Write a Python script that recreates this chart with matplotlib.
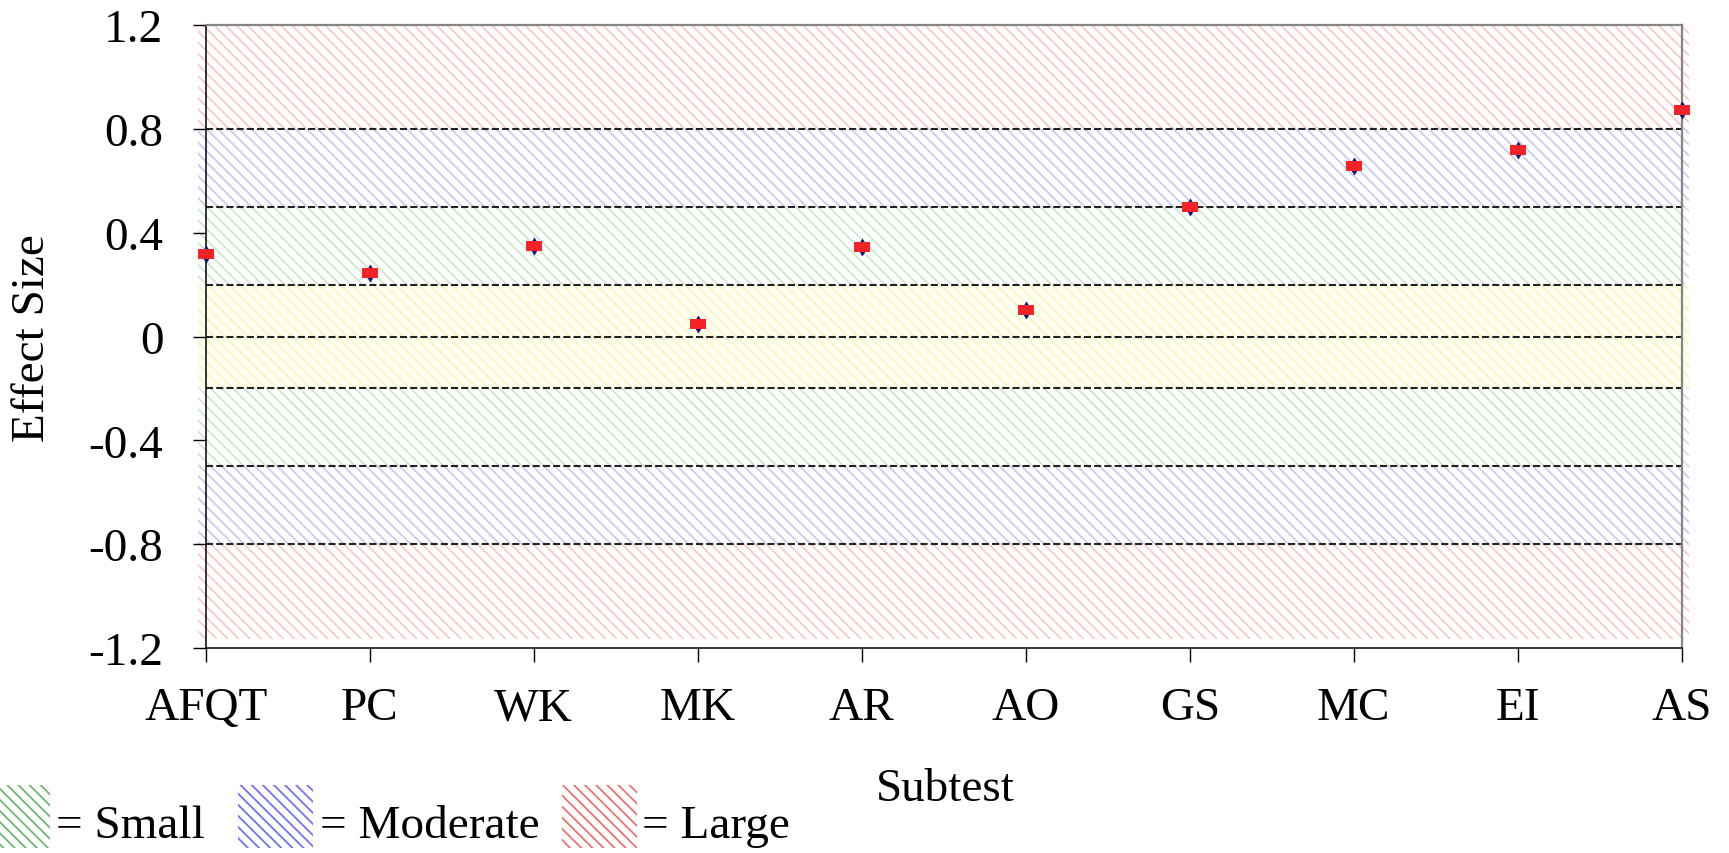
import matplotlib
matplotlib.use("Agg")
import matplotlib.pyplot as plt
from matplotlib.patches import Rectangle
from matplotlib.path import Path

# Effect sizes by ASVAB subtest
subtests = ["AFQT", "PC", "WK", "MK", "AR", "AO", "GS", "MC", "EI", "AS"]
effect_size = [0.318, 0.246, 0.347, 0.047, 0.345, 0.101, 0.497, 0.657, 0.717, 0.873]

y_ticks = [1.2, 0.8, 0.4, 0, -0.4, -0.8, -1.2]
y_tick_labels = ["1.2", "0.8", "0.4", "0", "-0.4", "-0.8", "-1.2"]
thresholds = [0.8, 0.5, 0.2, 0, -0.2, -0.5, -0.8]

# Shaded effect-size bands: (low, high, face, hatch colour)
bands = [
    (0.8, 1.2, "white", "#f9caca"),
    (0.5, 0.8, "white", "#cacaf4"),
    (0.2, 0.5, "white", "#cde8cd"),
    (-0.2, 0.2, "#fffff0", "#f6f6c8"),
    (-0.5, -0.2, "white", "#cde8cd"),
    (-0.8, -0.5, "white", "#cacaf4"),
    (-1.165, -0.8, "white", "#f9caca"),
]

legend_items = [("= Small", "#6cb86c"), ("= Moderate", "#7272ee"), ("= Large", "#ee7272")]

plt.rcParams["font.family"] = ["Liberation Serif", "DejaVu Serif"]
plt.rcParams["hatch.linewidth"] = 1.3

W, H = 1729, 854
fig = plt.figure(figsize=(W / 100, H / 100), dpi=100)
ax = fig.add_axes([205.7 / W, 1 - 649 / H, (1681.7 - 205.7) / W, (649 - 26) / H])

x = list(range(len(subtests)))
ax.set_xlim(0, len(subtests) - 1)
ax.set_ylim(-1.2, 1.2)

for lo, hi, face, hc in bands:
    ax.add_patch(Rectangle((-0.045, lo), len(subtests) - 1 + 0.09, hi - lo,
                           facecolor=face, edgecolor=hc, hatch="\\\\\\",
                           linewidth=0, zorder=0, clip_on=False))

for t in thresholds:
    ax.axhline(t, color="#222222", linewidth=1.5, linestyle=(0, (3.4, 1.5)), zorder=2)

diamond = Path([(0, -1), (0.62, 0), (0, 1), (-0.62, 0), (0, -1)])
rect = Path([(-1, -0.6), (1, -0.6), (1, 0.6), (-1, 0.6), (-1, -0.6)])
ax.plot(x, effect_size, linestyle="none", marker=diamond, markersize=13,
        color="#14147a", markeredgewidth=0, zorder=4, clip_on=False)
ax.plot(x, effect_size, linestyle="none", marker=rect, markersize=11.5,
        color="#f52228", markeredgewidth=0, zorder=5, clip_on=False)

ax.set_xticks(x)
ax.set_xticklabels(subtests, fontsize=34)
ax.set_yticks(y_ticks)
ax.set_yticklabels(y_tick_labels, fontsize=34)
ax.tick_params(axis="x", direction="out", length=10, width=1, pad=18, colors="black")
ax.tick_params(axis="y", direction="out", length=9.4, width=1, pad=21, colors="black")

for side in ("left", "bottom"):
    ax.spines[side].set_color("black")
    ax.spines[side].set_linewidth(1.1)
for side in ("top", "right"):
    ax.spines[side].set_color("#858585")
    ax.spines[side].set_linewidth(1.6)
ax.set_facecolor("none")

fig.text(33 / W, 1 - 338 / H, "Effect Size", rotation=90, ha="center", va="center", fontsize=34)
fig.text(945 / W, 1 - 801 / H, "Subtest", ha="center", va="baseline", fontsize=34)

# Legend swatches along the bottom edge
box_x = [-25, 238, 562]
text_x = [56, 320, 642]
for (label, col), bx, tx in zip(legend_items, box_x, text_x):
    fig.patches.append(Rectangle((bx / W, 1 - 849 / H), 75 / W, 63 / H,
                                 transform=fig.transFigure, facecolor="white",
                                 edgecolor=col, hatch="\\\\\\", linewidth=0))
    fig.text(tx / W, 1 - 838 / H, label, ha="left", va="baseline", fontsize=34)

fig.savefig("out.png", dpi=100)
